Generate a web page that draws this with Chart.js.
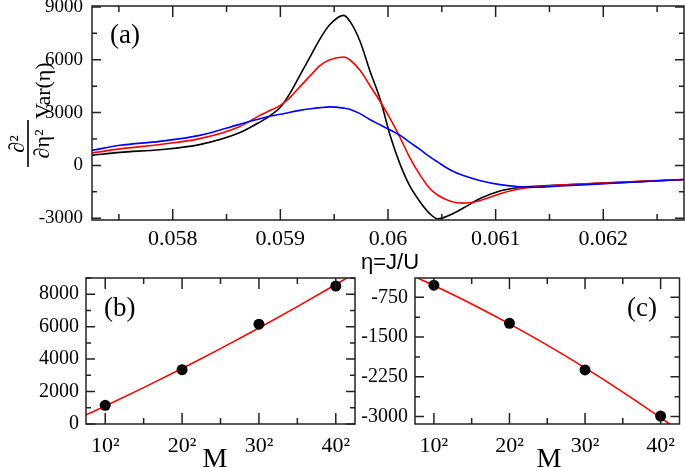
<!DOCTYPE html>
<html>
<head>
<meta charset="utf-8">
<script src="https://cdn.jsdelivr.net/npm/chart.js@4.4.0/dist/chart.umd.min.js"></script>
<style>
body { margin: 0; background: #fff; }
#wrap { position: relative; width: 685px; height: 468px; }
canvas { position: absolute; left: 0; top: 0; }
</style>
</head>
<body>
<div id="wrap">
<canvas id="chartA" width="685" height="468"></canvas>
<canvas id="chartB" width="685" height="468"></canvas>
<canvas id="chartC" width="685" height="468"></canvas>
</div>

<script>
// panel (a): second derivative of Var(eta) for three M
var eta = [0.05725, 0.05751, 0.05788, 0.05825, 0.05862, 0.05881, 0.0589, 0.059, 0.05909,
           0.05918, 0.05928, 0.05937, 0.05946, 0.05959, 0.05965, 0.05974, 0.05983, 0.05993,
           0.06002, 0.06011, 0.0602, 0.0603, 0.06039, 0.06046, 0.06058, 0.0607, 0.06086,
           0.06104, 0.06123, 0.06141, 0.0616, 0.06197, 0.06234, 0.06275];
var curveM40 = [570, 740, 890, 1180, 1850, 2460, 2800, 3300, 4100, 5100, 6200, 7200, 8000, 8520,
                8150, 7050, 5400, 3700, 1700, 100, -1140, -2090, -2750, -3030, -2800, -2420,
                -1870, -1450, -1250, -1170, -1110, -1020, -920, -800];
var curveM30 = [700, 940, 1190, 1520, 2200, 2840, 3100, 3409, 3860, 4460, 5110, 5680, 6000, 6155,
                5970, 5400, 4550, 3600, 2650, 1610, 470, -570, -1330, -1680, -2030, -2140,
                -1990, -1610, -1330, -1200, -1120, -1000, -900, -800];
var curveM20 = [850, 1140, 1364, 1705, 2330, 2650, 2790, 2900, 3020, 3125, 3215, 3280, 3320, 3250,
                3180, 2940, 2610, 2290, 2010, 1720, 1325, 890, 480, 200, -260, -580,
                -870, -1090, -1210, -1240, -1170, -1050, -930, -800];
var ticksAx = [0.058, 0.059, 0.06, 0.061, 0.062];
var ticksAy = [-3000, 0, 3000, 6000, 9000];

// panels (b) and (c): peak height and dip depth against M
var mVals = [10, 20, 30, 40];
var mLabels = ['10²', '20²', '30²', '40²'];
var peakMax = [1150, 3350, 6150, 8500];
var peakMin = [-520, -1240, -2120, -2990];
var fitM = [7.5, 10, 15, 20, 25, 30, 35, 40, 42.5];
var fitMax = [562, 1110, 2242, 3420, 4645, 5917, 7235, 8600, 9299];
var fitMin = [-363, -527, -875, -1250, -1652, -2081, -2537, -3020, -3271];
var ticksBy = [0, 2000, 4000, 6000, 8000];
var ticksCy = [-3000, -2250, -1500, -750];

Chart.defaults.font.family = '"Liberation Serif", "Times New Roman", serif';
Chart.defaults.color = '#000';

function xy(xs, ys) {
  return xs.map(function (v, i) { return {x: v, y: ys[i]}; });
}

// closed frame with inward major/minor ticks on all four sides
var boxTicks = {
  id: 'boxTicks',
  afterDatasetsDraw: function (chart, args, o) {
    var ctx = chart.ctx, a = chart.chartArea, sx = chart.scales.x, sy = chart.scales.y;
    ctx.save();
    ctx.strokeStyle = '#222';
    ctx.lineWidth = 1.5;
    ctx.beginPath();
    var hx = o.xStep / 2, hy = o.yStep / 2, k, p, len;
    for (k = Math.ceil(sx.min / hx - 1e-6); k * hx <= sx.max + 1e-9; k++) {
      p = sx.getPixelForValue(k * hx);
      len = (k % 2 === 0) ? 11 : 6;
      ctx.moveTo(p, a.bottom); ctx.lineTo(p, a.bottom - len);
      ctx.moveTo(p, a.top); ctx.lineTo(p, a.top + len);
    }
    for (k = Math.ceil(sy.min / hy - 1e-6); k * hy <= sy.max + 1e-9; k++) {
      p = sy.getPixelForValue(k * hy);
      len = (k % 2 === 0) ? 9 : 5;
      ctx.moveTo(a.left, p); ctx.lineTo(a.left + len, p);
      ctx.moveTo(a.right, p); ctx.lineTo(a.right - len, p);
    }
    ctx.stroke();
    ctx.strokeRect(a.left, a.top, a.right - a.left, a.bottom - a.top);
    ctx.restore();
  }
};

var notes = {
  id: 'notes',
  afterDraw: function (chart, args, o) {
    var ctx = chart.ctx;
    ctx.save();
    ctx.fillStyle = '#000';
    ctx.textBaseline = 'alphabetic';
    o.items.forEach(function (t) {
      ctx.font = t.font;
      ctx.textAlign = t.align || 'left';
      ctx.fillText(t.text, t.x, t.y);
    });
    if (o.fraction) {
      // rotated d^2/d eta^2 Var(eta)
      var f = o.fraction;
      ctx.translate(f.x, f.y);
      ctx.rotate(-Math.PI / 2);
      ctx.font = '22px "Liberation Serif"';
      ctx.textAlign = 'center';
      ctx.fillText('∂²', 23, -4);
      ctx.fillText('∂η²', 23, 21);
      ctx.fillRect(0, -0.8, 47, 1.6);
      ctx.textAlign = 'left';
      ctx.fillText('Var(η)', 48, 22);
    }
    ctx.restore();
  }
};

function fixY(w) {
  return function (s) { s.width = w; s.paddingTop = 0; s.paddingBottom = 0; };
}
function fixX(h) {
  return function (s) { s.height = h; s.paddingLeft = 0; s.paddingRight = 0; };
}
function setTicks(vals) {
  return function (s) { s.ticks = vals.map(function (v) { return {value: v}; }); };
}
function plain(v) { return String(v); }

var common = {
  responsive: false,
  animation: false,
  events: []
};

// (a)
new Chart('chartA', {
  type: 'line',
  data: {
    datasets: [
      {data: xy(eta, curveM20), borderColor: '#0000ff'},
      {data: xy(eta, curveM30), borderColor: '#ff0000'},
      {data: xy(eta, curveM40), borderColor: '#000000'}
    ].map(function (d) {
      d.borderWidth = 1.6; d.pointRadius = 0; d.fill = false;
      d.cubicInterpolationMode = 'monotone';
      return d;
    })
  },
  options: Object.assign({}, common, {
    layout: {padding: {top: 6, right: 1, left: 0, bottom: 0}},
    scales: {
      x: {
        type: 'linear', min: 0.05725, max: 0.06275,
        grid: {display: false, drawTicks: false}, border: {display: false},
        afterBuildTicks: setTicks(ticksAx),
        ticks: {autoSkip: false, maxRotation: 0, padding: 6, font: {size: 22},
                callback: function (v) { return String(Number(v.toFixed(3))); }},
        afterFit: fixX(248)
      },
      y: {
        min: -3100, max: 9050,
        grid: {display: false, drawTicks: false}, border: {display: false},
        afterBuildTicks: setTicks(ticksAy),
        ticks: {padding: 9, font: {size: 19}, callback: plain},
        afterFit: fixY(92)
      }
    },
    plugins: {
      legend: {display: false}, tooltip: {enabled: false},
      boxTicks: {xStep: 0.001, yStep: 3000},
      notes: {
        items: [
          {text: '(a)', x: 110, y: 43, font: '27px "Liberation Serif"'},
          {text: 'η=J/U', x: 390, y: 269, font: '22px "Liberation Sans"', align: 'center'}
        ],
        fraction: {x: 28, y: 167}
      }
    }
  }),
  plugins: [boxTicks, notes]
});

function sidePanel(id, pts, fit, yMin, yMax, yTicks, yStep, pad, yw, tag) {
  return new Chart(id, {
    type: 'line',
    data: {
      datasets: [
        {data: xy(mVals, pts), showLine: false, pointRadius: 5.5, pointBackgroundColor: '#000',
         pointBorderColor: '#000', borderWidth: 0},
        {data: xy(fitM, fit), borderColor: '#ff0000', borderWidth: 1.6, pointRadius: 0,
         cubicInterpolationMode: 'monotone'}
      ]
    },
    options: Object.assign({}, common, {
      layout: {padding: pad},
      scales: {
        x: {
          type: 'linear', min: 7.5, max: 42.5,
          grid: {display: false, drawTicks: false}, border: {display: false},
          afterBuildTicks: setTicks(mVals),
          ticks: {autoSkip: false, maxRotation: 0, padding: 9, font: {size: 22},
                  callback: function (v) { var i = mVals.indexOf(v); return i < 0 ? '' : mLabels[i]; }},
          afterFit: fixX(44)
        },
        y: {
          min: yMin, max: yMax,
          grid: {display: false, drawTicks: false}, border: {display: false},
          afterBuildTicks: setTicks(yTicks),
          ticks: {padding: 7, font: {size: 20}, callback: plain},
          afterFit: fixY(yw)
        }
      },
      plugins: {
        legend: {display: false}, tooltip: {enabled: false},
        boxTicks: {xStep: 10, yStep: yStep},
        notes: {items: tag}
      }
    }),
    plugins: [boxTicks, notes]
  });
}

// (b)
sidePanel('chartB', peakMax, fitMax, 0, 9000, ticksBy, 2000,
  {top: 278, right: 330, left: 0, bottom: 0}, 86,
  [{text: '(b)', x: 104, y: 316, font: '27px "Liberation Serif"'},
   {text: 'M', x: 215, y: 467, font: '28px "Liberation Serif"', align: 'center'}]);

// (c)
sidePanel('chartC', peakMin, fitMin, -3140, -385, ticksCy, 750,
  {top: 278, right: 1, left: 0, bottom: 0}, 415,
  [{text: '(c)', x: 627, y: 316, font: '27px "Liberation Serif"'},
   {text: 'M', x: 549, y: 467, font: '28px "Liberation Serif"', align: 'center'}]);
</script>
</body>
</html>
